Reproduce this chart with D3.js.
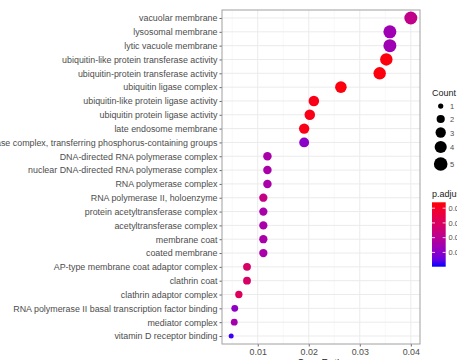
<!DOCTYPE html>
<html>
<head>
<meta charset="utf-8">
<script src="https://cdn.jsdelivr.net/npm/d3@7"></script>
<style>
  body { margin: 0; background: #fff; overflow: hidden; }
  svg { display: block; font-family: "Liberation Sans", Arial, sans-serif; }
</style>
</head>
<body>
<svg></svg>
<script>
// categories, top to bottom
var terms = [
  "vacuolar membrane",
  "lysosomal membrane",
  "lytic vacuole membrane",
  "ubiquitin-like protein transferase activity",
  "ubiquitin-protein transferase activity",
  "ubiquitin ligase complex",
  "ubiquitin-like protein ligase activity",
  "ubiquitin protein ligase activity",
  "late endosome membrane",
  "transferase complex, transferring phosphorus-containing groups",
  "DNA-directed RNA polymerase complex",
  "nuclear DNA-directed RNA polymerase complex",
  "RNA polymerase complex",
  "RNA polymerase II, holoenzyme",
  "protein acetyltransferase complex",
  "acetyltransferase complex",
  "membrane coat",
  "coated membrane",
  "AP-type membrane coat adaptor complex",
  "clathrin coat",
  "clathrin adaptor complex",
  "RNA polymerase II basal transcription factor binding",
  "mediator complex",
  "vitamin D receptor binding"
]
var geneRatio = [0.0400, 0.0359, 0.0359, 0.0352, 0.0339, 0.0263, 0.0210, 0.0202, 0.0191, 0.0191,
                 0.0119, 0.0119, 0.0119, 0.0111, 0.0111, 0.0111, 0.0111, 0.0111,
                 0.0079, 0.0079, 0.0063, 0.0055, 0.0054, 0.0048]
var counts    = [5, 5, 5, 4.6, 4.6, 4, 3.4, 3.4, 3.3, 3,
                 2.3, 2.3, 2.3, 2.2, 2.2, 2.2, 2.2, 2.2,
                 2, 2, 1.8, 1.6, 1.6, 1]
var pAdjust   = [0.022, 0.014, 0.014, 0.043, 0.043, 0.043, 0.042, 0.042, 0.042, 0.010,
                 0.016, 0.016, 0.016, 0.023, 0.016, 0.016, 0.016, 0.016,
                 0.029, 0.029, 0.031, 0.011, 0.015, 0.002]
var xTicks = [0.01, 0.02, 0.03, 0.04]
var countBreaks = [1, 2, 3, 4, 5]
var pBreaks = [0.01, 0.02, 0.03, 0.04]

var width = 457
var height = 360
// note: "top" is taken by window.top, so panel edges get their own names
var panelL = 222, panelR = 420, panelT = 10, panelB = 344

var svg = d3.select("svg")
    .attr("width", width)
    .attr("height", height)

/* Scales */
var x = d3.scaleLinear()
    .domain([0.003, 0.0418])
    .range([panelL, panelR])

var y = d3.scalePoint()
    .domain(terms)
    .range([panelT + 8, panelB - 8])

var r = d3.scaleLinear()
    .domain([1, 5])
    .range([2.5 * 2.5, 6.5 * 6.5])

function radius(v) { return Math.sqrt(r(v)) }

var color = d3.scaleLinear()
    .domain([0.0003, 0.044])
    .range(["blue", "red"])
    .interpolate(d3.interpolateLab)

/* Grid */
var grid = svg.append("g")
var minor = [0.005, 0.015, 0.025, 0.035]
grid.selectAll(".minor")
    .data(minor)
    .enter().append("line")
    .attr("x1", (d) => x(d)).attr("x2", (d) => x(d))
    .attr("y1", panelT).attr("y2", panelB)
    .attr("stroke", "#f4f4f4").attr("stroke-width", 0.6)
grid.selectAll(".major")
    .data(xTicks)
    .enter().append("line")
    .attr("x1", (d) => x(d)).attr("x2", (d) => x(d))
    .attr("y1", panelT).attr("y2", panelB)
    .attr("stroke", "#ebebeb").attr("stroke-width", 1)
grid.selectAll(".hline")
    .data(terms)
    .enter().append("line")
    .attr("x1", panelL).attr("x2", panelR)
    .attr("y1", (d) => y(d)).attr("y2", (d) => y(d))
    .attr("stroke", "#ebebeb").attr("stroke-width", 1)

/* Axes */
var yAxis = svg.append("g")
    .attr("transform", "translate(" + panelL + ",0)")
    .call(d3.axisLeft(y).tickSize(2.5).tickPadding(2))
yAxis.select(".domain").remove()
yAxis.selectAll("text").attr("font-size", 8.9).attr("fill", "#4d4d4d")
yAxis.selectAll("line").attr("stroke", "#666")

var xAxis = svg.append("g")
    .attr("transform", "translate(0," + panelB + ")")
    .call(d3.axisBottom(x).tickValues(xTicks).tickFormat(d3.format(".2f")).tickSize(2.5).tickPadding(2.5))
xAxis.select(".domain").remove()
xAxis.selectAll("text").attr("font-size", 8.9).attr("fill", "#4d4d4d")
xAxis.selectAll("line").attr("stroke", "#666")

svg.append("text")
    .attr("x", (panelL + panelR) / 2)
    .attr("y", 367)
    .attr("text-anchor", "middle")
    .attr("font-size", 10)
    .attr("fill", "#222")
    .text("GeneRatio")

/* Points */
svg.append("g")
    .selectAll("circle")
    .data(terms)
    .enter()
        .append("circle")
            .attr("cx", (d, i) => x(geneRatio[i]))
            .attr("cy", (d) => y(d))
            .attr("r", (d, i) => radius(counts[i]))
            .attr("fill", (d, i) => color(pAdjust[i]))

/* Panel border */
svg.append("rect")
    .attr("x", panelL).attr("y", panelT)
    .attr("width", panelR - panelL).attr("height", panelB - panelT)
    .attr("fill", "none")
    .attr("stroke", "#a0a0a0")
    .attr("stroke-width", 1)

/* Count legend */
var legendX = 432
var countY = d3.scaleOrdinal()
    .domain(countBreaks)
    .range([106, 119, 132.5, 147, 164])

svg.append("text")
    .attr("x", legendX).attr("y", 96)
    .attr("font-size", 9).attr("fill", "#222")
    .text("Count")

var cl = svg.append("g")
cl.selectAll("circle")
    .data(countBreaks)
    .enter().append("circle")
    .attr("cx", 440.7)
    .attr("cy", (d) => countY(d))
    .attr("r", (d) => radius(d) * 1.05)
    .attr("fill", "#000")
cl.selectAll("text")
    .data(countBreaks)
    .enter().append("text")
    .attr("x", 450)
    .attr("y", (d) => countY(d) + 3)
    .attr("font-size", 7.5).attr("fill", "#4d4d4d")
    .text((d) => d)

/* p.adjust colour bar */
svg.append("text")
    .attr("x", legendX).attr("y", 197)
    .attr("font-size", 9).attr("fill", "#222")
    .text("p.adjust")

var barTop = 202.3, barBottom = 266.7
var barY = d3.scaleLinear()
    .domain(color.domain())
    .range([barBottom, barTop])

var defs = svg.append("defs")
var grad = defs.append("linearGradient")
    .attr("id", "pgrad")
    .attr("x1", 0).attr("y1", 1).attr("x2", 0).attr("y2", 0)
grad.selectAll("stop")
    .data(d3.range(0, 1.01, 0.1))
    .enter().append("stop")
    .attr("offset", (d) => d)
    .attr("stop-color", (d) => color(color.domain()[0] + d * (color.domain()[1] - color.domain()[0])))

svg.append("rect")
    .attr("x", 432).attr("y", barTop)
    .attr("width", 13.7).attr("height", barBottom - barTop)
    .attr("fill", "url(#pgrad)")

var pl = svg.append("g")
pl.selectAll("line.l")
    .data(pBreaks)
    .enter().append("line")
    .attr("x1", 432).attr("x2", 435)
    .attr("y1", (d) => barY(d)).attr("y2", (d) => barY(d))
    .attr("stroke", "#fff").attr("stroke-width", 0.8)
pl.selectAll("line.r")
    .data(pBreaks)
    .enter().append("line")
    .attr("x1", 442.7).attr("x2", 445.7)
    .attr("y1", (d) => barY(d)).attr("y2", (d) => barY(d))
    .attr("stroke", "#fff").attr("stroke-width", 0.8)
pl.selectAll("text")
    .data(pBreaks)
    .enter().append("text")
    .attr("x", 448.5)
    .attr("y", (d) => barY(d) + 2.8)
    .attr("font-size", 7.5).attr("fill", "#4d4d4d")
    .text((d) => d3.format(".2f")(d))
</script>
</body>
</html>
